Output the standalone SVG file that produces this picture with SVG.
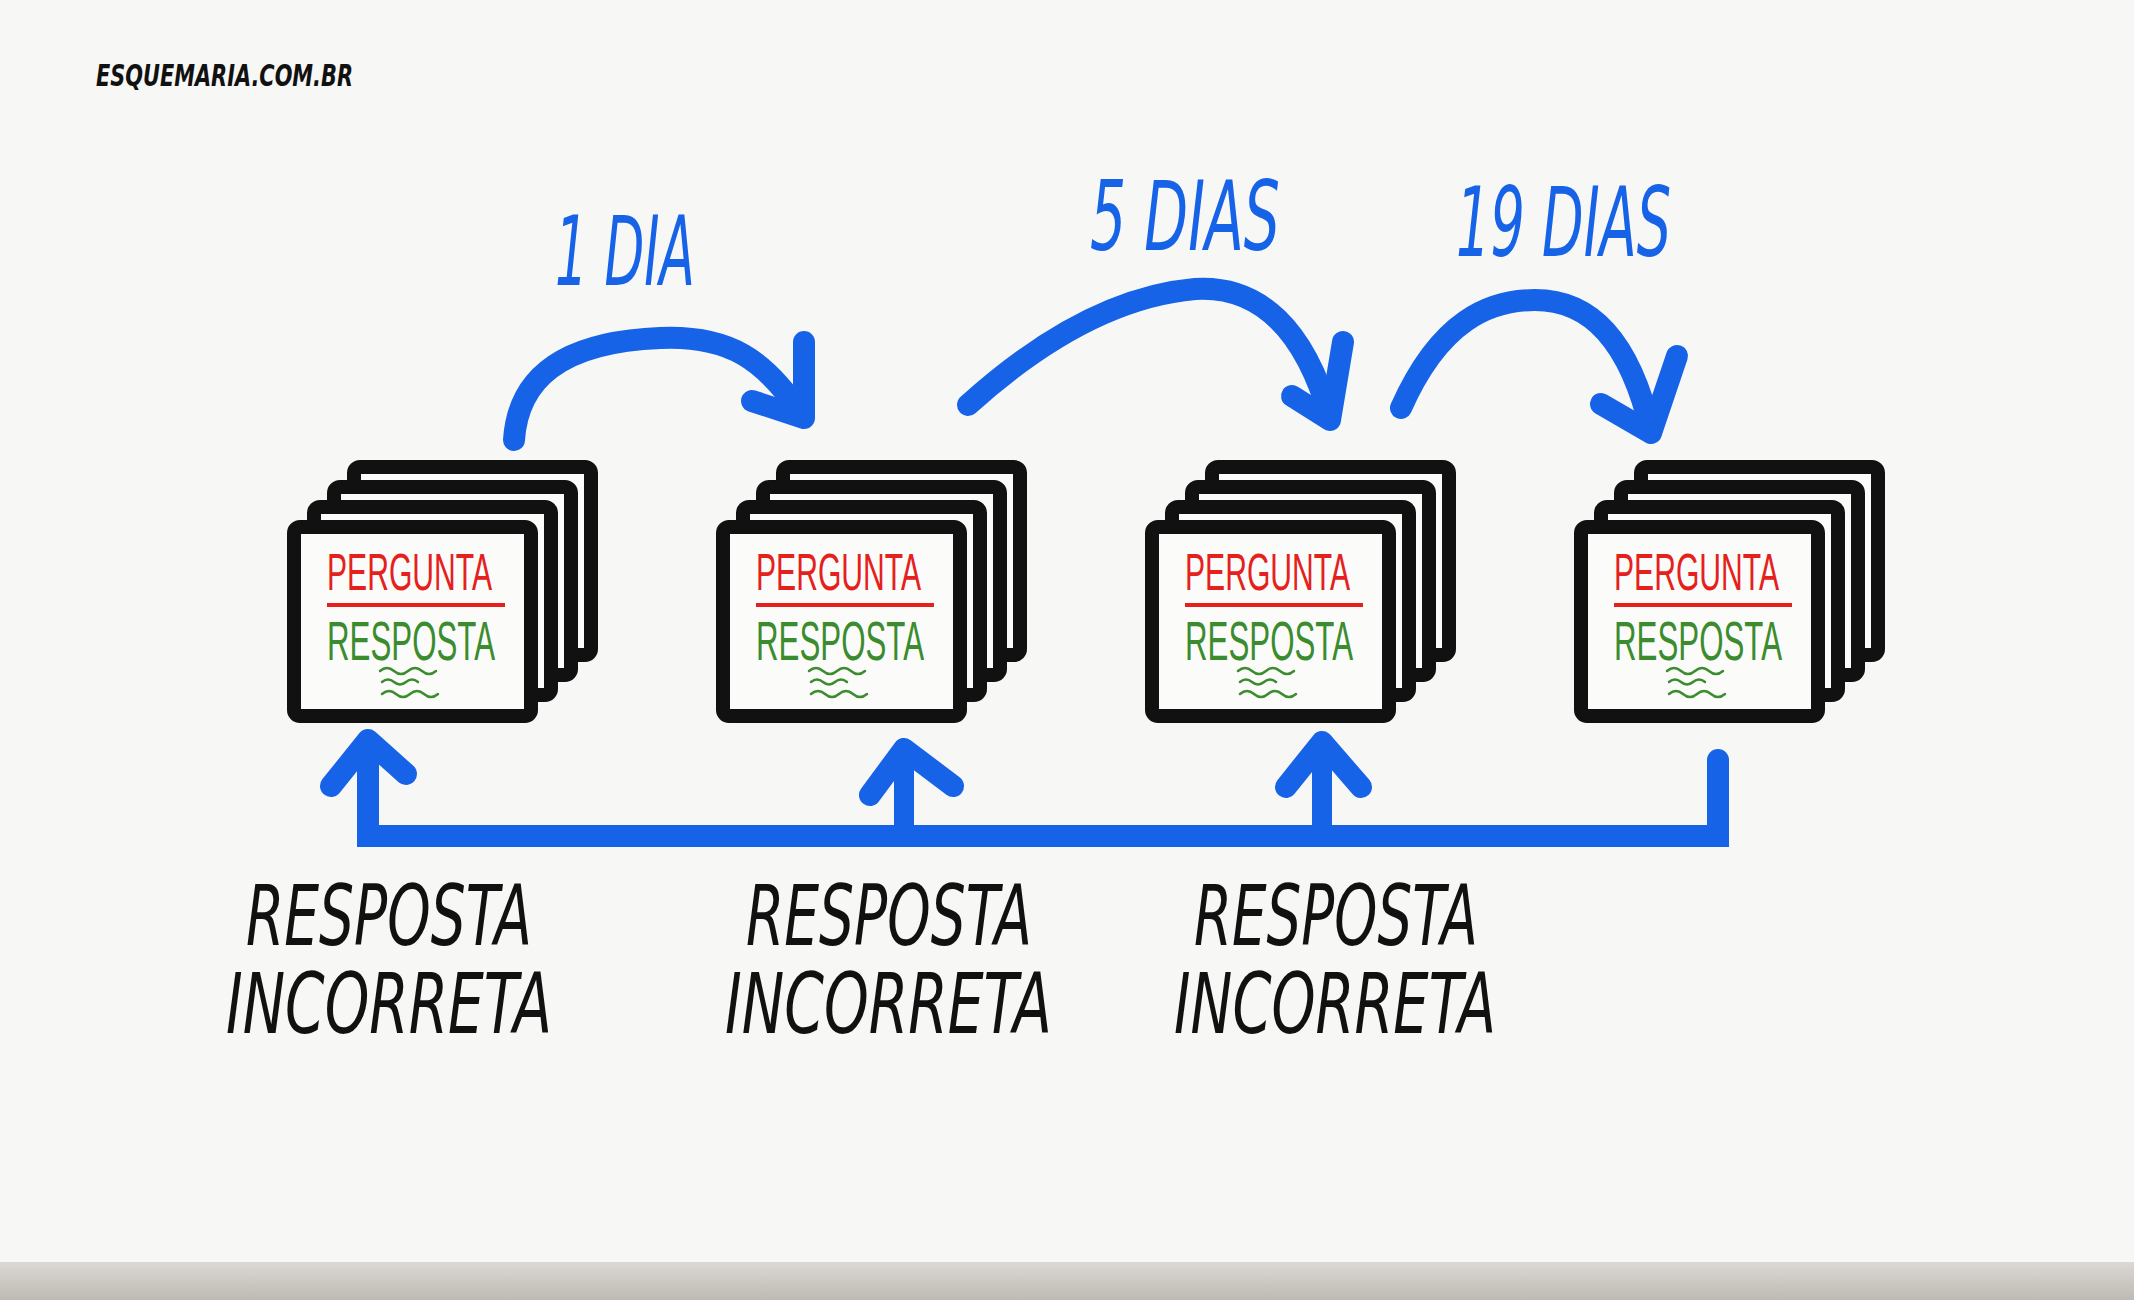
<svg xmlns="http://www.w3.org/2000/svg" width="2134" height="1300" viewBox="0 0 2134 1300">
  <defs>
    <linearGradient id="band" x1="0" y1="0" x2="0" y2="1">
      <stop offset="0" stop-color="#dcd9d4"/>
      <stop offset="1" stop-color="#bdbab4"/>
    </linearGradient>
    <g id="stack">
      <rect class="card" x="67" y="467" width="237" height="188"/>
      <rect class="card" x="47" y="487" width="237" height="188"/>
      <rect class="card" x="27" y="507" width="237" height="188"/>
      <rect class="card" x="7" y="527" width="237" height="189"/>
      <text class="q" x="40" y="590" textLength="165" lengthAdjust="spacingAndGlyphs">PERGUNTA</text>
      <line class="qline" x1="40" y1="605" x2="218" y2="605"/>
      <text class="a" x="40" y="660" textLength="168" lengthAdjust="spacingAndGlyphs">RESPOSTA</text>
      <path class="wave" d="M93,671 q7,-6 14,0 t14,0 t14,0 t14,0"/>
      <path class="wave" d="M95,682 q6,-5 12,0 t12,0 t12,0"/>
      <path class="wave" d="M95,694 q7,-6 14,0 t14,0 t14,0 t14,0"/>
    </g>
  </defs>
  <style>
    .card { fill: #fbfbfa; stroke: #111; stroke-width: 14; rx: 6; }
    .q { font-family: "Liberation Sans", "DejaVu Sans", sans-serif; font-size: 52px; fill: #e4211d; }
    .a { font-family: "Liberation Sans", "DejaVu Sans", sans-serif; font-size: 55px; fill: #3b8c2e; }
    .qline { stroke: #e4211d; stroke-width: 4; }
    .wave { fill: none; stroke: #3b8c2e; stroke-width: 2.5; stroke-linecap: round; }
    .blue { fill: none; stroke: #1763e8; stroke-width: 22; stroke-linecap: round; stroke-linejoin: round; }
    .bar { fill: none; stroke: #1763e8; stroke-width: 22; stroke-linejoin: miter; }
    .stem { fill: none; stroke: #1763e8; stroke-width: 20; }
    .days { font-family: "DejaVu Sans", "Liberation Sans", sans-serif; font-style: italic; font-size: 96px; fill: #1763e8; }
    .wrong { font-family: "DejaVu Sans", "Liberation Sans", sans-serif; font-style: italic; font-size: 84px; fill: #111; }
    .brand { font-family: "DejaVu Sans", "Liberation Sans", sans-serif; font-style: italic; font-weight: bold; font-size: 30px; fill: #111; }
  </style>
  <rect x="0" y="0" width="2134" height="1300" fill="#f7f7f5"/>
  <rect x="0" y="1262" width="2134" height="38" fill="url(#band)"/>

  <text id="brand" class="brand" x="96" y="86" textLength="257" lengthAdjust="spacingAndGlyphs">ESQUEMARIA.COM.BR</text>

  <g id="stack1" transform="translate(287,0)"><use href="#stack"/></g>
  <g id="stack2" transform="translate(716,0)"><use href="#stack"/></g>
  <g id="stack3" transform="translate(1145,0)"><use href="#stack"/></g>
  <g id="stack4" transform="translate(1574,0)"><use href="#stack"/></g>

  <g id="connectors">
    <path class="blue" d="M514,440 C518,380 560,342 660,338 C730,335 765,360 802,415"/>
    <path class="blue" d="M804,342 L804,418 L752,401"/>
    <path class="blue" d="M968,405 C1040,340 1115,296 1195,289 C1260,285 1305,330 1330,418"/>
    <path class="blue" d="M1343,342 L1330,420 L1292,396"/>
    <path class="blue" d="M1401,408 C1440,320 1490,300 1535,300 C1590,300 1630,340 1651,432"/>
    <path class="blue" d="M1677,356 L1651,433 L1601,404"/>

    <path class="bar" d="M1718,760 L1718,836 L368,836 L368,750"/>
    <path class="stem" d="M904,836 L904,755"/>
    <path class="stem" d="M1322,836 L1322,750"/>
    <path class="blue" d="M331,786 L368,740 L406,774"/>
    <path class="blue" d="M870,795 L904,749 L953,786"/>
    <path class="blue" d="M1286,787 L1322,742 L1361,787"/>
    <path class="blue" stroke-width="20" d="M1718,760 L1718,770"/>
  </g>

  <g id="labels">
    <text class="days" x="555" y="285" textLength="140" lengthAdjust="spacingAndGlyphs">1 DIA</text>
    <text class="days" x="1090" y="250" textLength="190" lengthAdjust="spacingAndGlyphs">5 DIAS</text>
    <text class="days" x="1456" y="256" textLength="215" lengthAdjust="spacingAndGlyphs">19 DIAS</text>

    <text class="wrong" x="246" y="945" textLength="286" lengthAdjust="spacingAndGlyphs">RESPOSTA</text>
    <text class="wrong" x="226" y="1033" textLength="326" lengthAdjust="spacingAndGlyphs">INCORRETA</text>
    <text class="wrong" x="746" y="945" textLength="286" lengthAdjust="spacingAndGlyphs">RESPOSTA</text>
    <text class="wrong" x="725" y="1033" textLength="327" lengthAdjust="spacingAndGlyphs">INCORRETA</text>
    <text class="wrong" x="1194" y="945" textLength="284" lengthAdjust="spacingAndGlyphs">RESPOSTA</text>
    <text class="wrong" x="1174" y="1033" textLength="322" lengthAdjust="spacingAndGlyphs">INCORRETA</text>
  </g>
</svg>
